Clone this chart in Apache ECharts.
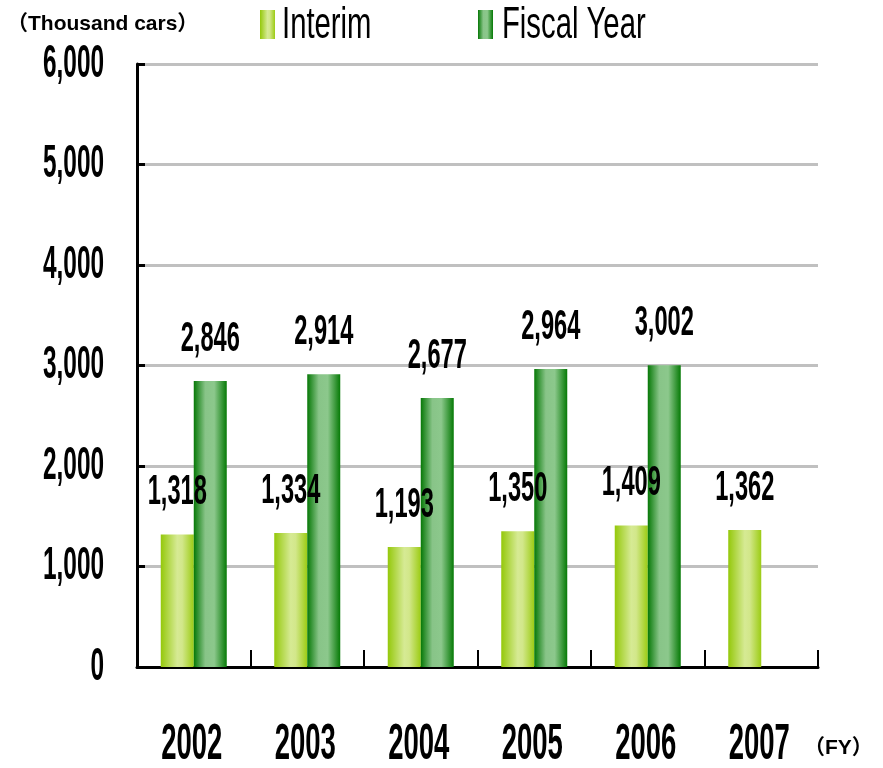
<!DOCTYPE html>
<html>
<head>
<meta charset="utf-8">
<title>Sales volume</title>
<script src="https://cdn.jsdelivr.net/npm/echarts@6/dist/echarts.min.js"></script>
<style>
  html, body { margin: 0; padding: 0; background: #fff; overflow: hidden; }
  #chart { width: 883px; height: 768px; }
</style>
</head>
<body>
<div id="chart"></div>
<script>
// Sales volume, thousand cars, by fiscal year
const years = ['2002', '2003', '2004', '2005', '2006', '2007'];
const interimValues = [1318, 1334, 1193, 1350, 1409, 1362];
const fiscalValues = [2846, 2914, 2677, 2964, 3002, null];
const yTicks = [0, 1000, 2000, 3000, 4000, 5000, 6000];
const seriesNames = ['Interim', 'Fiscal Year'];

const BAR_WIDTH = 33;
const SANS = "'Liberation Sans', Arial, sans-serif";
const SANS_CJK = "'Liberation Sans', 'Noto Sans CJK JP', sans-serif";
const SQUEEZE = 0.55;        // horizontal squeeze for the tall condensed numerals
const LEGEND_SQUEEZE = 0.665;

const fmt = v => v.toLocaleString('en-US');

const interimFill = new echarts.graphic.LinearGradient(0, 0, 1, 0, [
  { offset: 0, color: '#94c80a' },
  { offset: 0.5, color: '#d6ea94' },
  { offset: 0.65, color: '#d2e78a' },
  { offset: 1, color: '#9ccc14' }
]);
const fiscalFill = new echarts.graphic.LinearGradient(0, 0, 1, 0, [
  { offset: 0, color: '#067806' },
  { offset: 0.35, color: '#88c488' },
  { offset: 0.62, color: '#8cc88c' },
  { offset: 1, color: '#067a06' }
]);

// condensed text element centred (or right-aligned) on a point
function squeezedText(x, y, text, size, align, squeeze) {
  return {
    type: 'text',
    x: x,
    y: y,
    scaleX: squeeze,
    style: {
      text: text,
      font: 'bold ' + size + 'px ' + SANS,
      fill: '#000',
      align: align,
      verticalAlign: 'middle'
    }
  };
}

// value label above a bar; side = -1 for the left bar, +1 for the right bar
function valueLabel(side) {
  return function (params, api) {
    const c = api.coord([api.value(0), api.value(1)]);
    return squeezedText(c[0] + side * BAR_WIDTH / 2, c[1] - 42, fmt(api.value(1)), 43, 'center', SQUEEZE);
  };
}

const interimLabelData = interimValues.map((v, i) => [i, v]).filter(d => d[1] != null);
const fiscalLabelData = fiscalValues.map((v, i) => [i, v]).filter(d => d[1] != null);

const legendBase = {
  icon: 'rect',
  itemWidth: 15,
  itemHeight: 29,
  top: 10,
  padding: 0,
  formatter: () => '',
  selectedMode: false
};

const chart = echarts.init(document.getElementById('chart'), null, { renderer: 'canvas' });

chart.setOption({
  animation: false,
  backgroundColor: '#fff',
  title: [
    {
      text: '（Thousand cars）',
      left: 7,
      top: 14,
      padding: 0,
      textStyle: { fontFamily: SANS_CJK, fontWeight: 'bold', fontSize: 21, color: '#000' }
    },
    {
      text: '（FY）',
      left: 804,
      top: 738,
      padding: 0,
      textStyle: { fontFamily: SANS_CJK, fontWeight: 'bold', fontSize: 21, color: '#000' }
    }
  ],
  legend: [
    Object.assign({ data: [seriesNames[0]], left: 260 }, legendBase),
    Object.assign({ data: [seriesNames[1]], left: 478 }, legendBase)
  ],
  graphic: [
    {
      type: 'text', x: 282, y: 26, scaleX: LEGEND_SQUEEZE,
      style: { text: seriesNames[0], font: '44px ' + SANS, fill: '#000', align: 'left', verticalAlign: 'middle' }
    },
    {
      type: 'text', x: 502, y: 26, scaleX: LEGEND_SQUEEZE,
      style: { text: seriesNames[1], font: '44px ' + SANS, fill: '#000', align: 'left', verticalAlign: 'middle' }
    }
  ],
  grid: { left: 137, right: 65, top: 64, bottom: 101 },
  xAxis: {
    type: 'category',
    data: years,
    axisLine: { lineStyle: { color: '#000', width: 3 } },
    axisTick: { show: true, inside: true, length: 17, lineStyle: { color: '#000', width: 2 } },
    axisLabel: { show: false },
    splitLine: { show: false }
  },
  yAxis: {
    type: 'value',
    min: 0,
    max: 6000,
    interval: 1000,
    axisLine: { show: true, lineStyle: { color: '#000', width: 3 } },
    axisTick: { show: true, inside: true, length: 8, lineStyle: { color: '#000', width: 3 } },
    axisLabel: { show: false },
    splitLine: { show: true, lineStyle: { color: '#c0c0c0', width: 3 } }
  },
  series: [
    {
      name: seriesNames[0],
      type: 'bar',
      data: interimValues,
      barWidth: BAR_WIDTH,
      barGap: '0%',
      itemStyle: { color: interimFill },
      z: 2
    },
    {
      name: seriesNames[1],
      type: 'bar',
      data: fiscalValues,
      barWidth: BAR_WIDTH,
      barGap: '0%',
      itemStyle: { color: fiscalFill },
      z: 2
    },
    {
      // value labels for the interim bars
      type: 'custom',
      silent: true,
      clip: false,
      z: 5,
      data: interimLabelData,
      encode: { x: 0, y: 1 },
      renderItem: valueLabel(-1)
    },
    {
      // value labels for the fiscal-year bars
      type: 'custom',
      silent: true,
      clip: false,
      z: 5,
      data: fiscalLabelData,
      encode: { x: 0, y: 1 },
      renderItem: valueLabel(1)
    },
    {
      // year labels under the category axis
      type: 'custom',
      silent: true,
      clip: false,
      z: 5,
      data: years.map((y, i) => [i, 0]),
      encode: { x: 0, y: 1 },
      renderItem: function (params, api) {
        const i = api.value(0);
        const c = api.coord([i, 0]);
        return squeezedText(c[0] - 2, c[1] + 78, years[i], 50, 'center', SQUEEZE);
      }
    },
    {
      // tick labels beside the value axis
      type: 'custom',
      silent: true,
      clip: false,
      z: 5,
      data: yTicks.map(v => [0, v]),
      encode: { x: 0, y: 1 },
      renderItem: function (params, api) {
        const c = api.coord([0, api.value(1)]);
        const band = api.size([1, 0])[0];
        return squeezedText(c[0] - band / 2 - 33, c[1], fmt(api.value(1)), 46, 'right', 0.53);
      }
    }
  ]
});
</script>
</body>
</html>
